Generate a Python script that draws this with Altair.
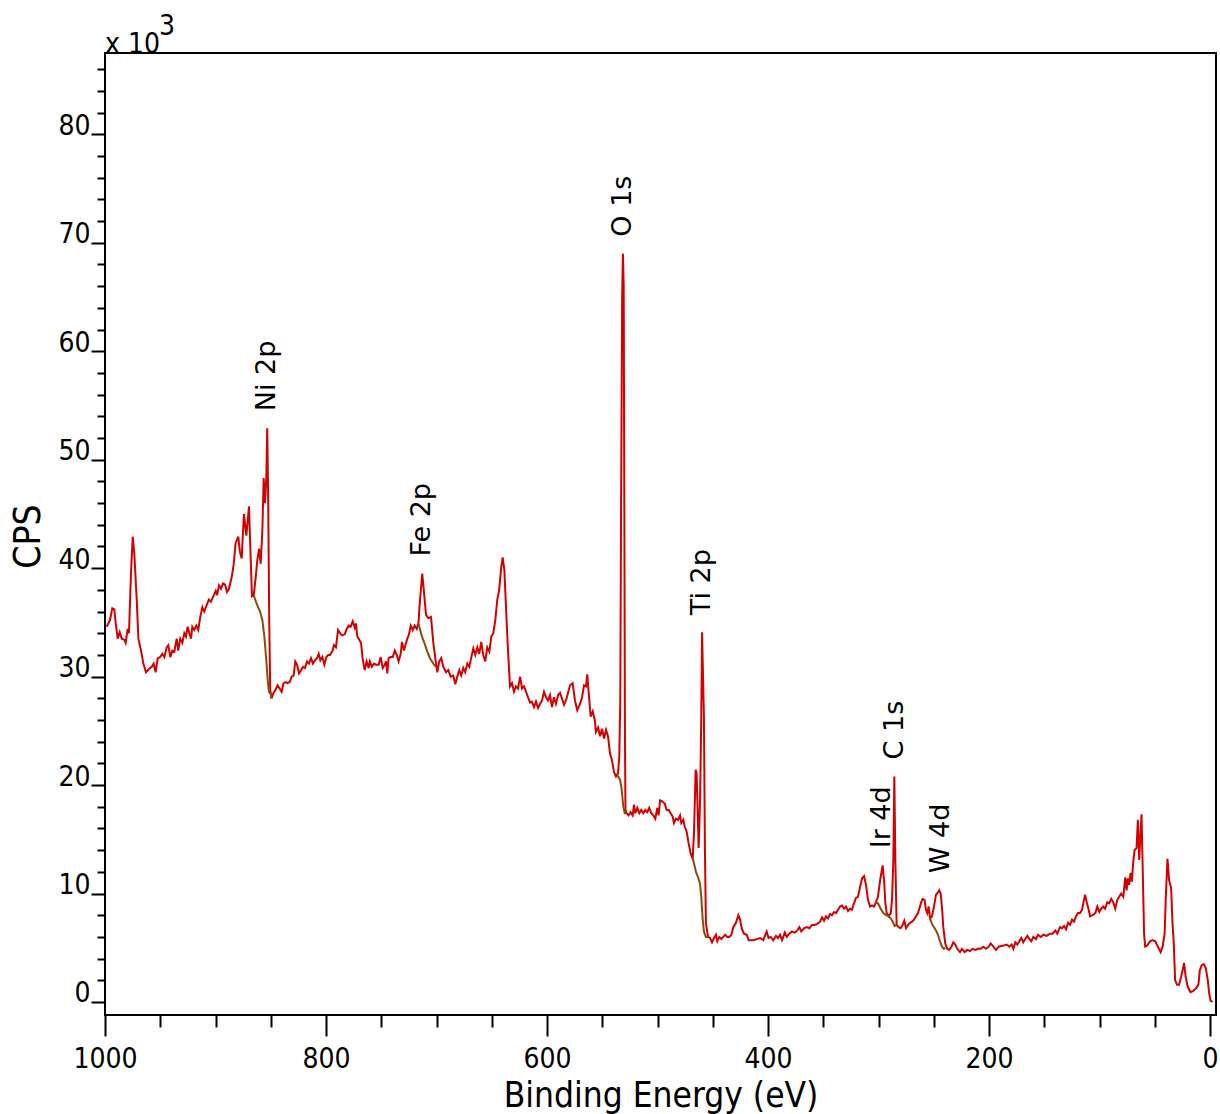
import altair as alt
import pandas as pd

# ---------------- data ----------------
energy = [
    998.5, 995.5, 993.4, 991.6, 990.3, 988.5, 986.7, 984.9, 982.5, 981.3, 979.5, 978.3, 976.5, 974.9, 973.5,
    971.3, 969.8, 967.4, 965.3, 962.9, 960.2, 957.7, 956.0, 954.2, 952.3, 950.2, 948.1, 946.3, 944.2, 942.7,
    940.9, 939.1, 937.3, 935.1, 933.7, 931.9, 930.0, 928.2, 926.7, 925.2, 923.7, 922.2, 921.0, 919.2, 917.4,
    915.6, 913.8, 911.9, 910.2, 908.0, 906.0, 904.2, 902.0, 899.8, 898.6, 896.8, 895.0, 893.2, 891.4, 889.6,
    887.8, 885.3, 883.6, 881.8, 879.4, 877.9, 876.3, 874.3, 872.1, 869.7, 868.1, 867.0, 865.4, 863.6, 862.2,
    860.6, 859.1, 857.6, 856.4, 855.2, 854.0, 853.2, 852.3, 851.4, 850.5, 849.3, 847.5, 845.6, 843.8, 842.0,
    840.2, 838.4, 836.5, 834.7, 832.9, 831.1, 829.3, 827.8, 826.2, 824.4, 822.6, 820.8, 819.0, 817.2, 815.4,
    813.6, 811.8, 810.0, 808.1, 806.6, 805.1, 803.3, 801.5, 799.7, 797.9, 796.4, 794.0, 792.8, 791.0, 789.1,
    787.3, 785.5, 783.1, 781.3, 779.5, 777.7, 775.8, 774.0, 772.9, 771.7, 769.9, 768.3, 766.9, 765.0, 763.2,
    761.4, 760.3, 758.5, 756.6, 754.8, 752.3, 750.5, 748.7, 746.9, 745.7, 744.5, 743.4, 741.5, 739.6, 737.8,
    736.0, 734.3, 732.4, 731.3, 729.4, 728.2, 726.4, 725.2, 723.3, 721.5, 719.7, 717.9, 716.4, 714.9, 712.9,
    711.0, 709.5, 707.4, 705.0, 702.9, 701.1, 699.3, 697.5, 695.7, 693.8, 691.4, 689.3, 687.2, 684.8, 683.0,
    681.2, 679.4, 677.6, 675.8, 674.0, 672.1, 670.3, 668.5, 666.7, 664.9, 663.1, 661.3, 659.5, 657.7, 655.9,
    654.1, 652.2, 650.4, 648.6, 646.8, 645.0, 643.3, 641.4, 640.1, 638.6, 637.1, 635.3, 633.5, 631.7, 629.9,
    628.1, 626.2, 624.4, 622.6, 620.8, 619.0, 617.2, 615.4, 613.6, 611.8, 610.0, 608.1, 606.3, 604.5, 602.7,
    600.9, 599.1, 597.3, 595.5, 593.7, 591.9, 590.0, 588.2, 584.6, 582.2, 579.2, 576.8, 574.7, 572.6, 570.1,
    568.3, 566.5, 564.7, 563.6, 561.7, 560.5, 558.6, 556.8, 555.7, 553.8, 552.0, 550.2, 548.4, 546.6, 544.8,
    543.0, 541.2, 539.4, 537.6, 535.7, 534.6, 533.7, 533.0, 532.0, 531.3, 530.6, 530.0, 529.5, 529.0, 528.0,
    526.2, 524.4, 522.5, 521.3, 520.1, 518.3, 516.5, 514.7, 512.9, 511.1, 509.3, 507.5, 505.6, 503.8, 502.0,
    500.2, 499.0, 497.7, 495.9, 493.5, 491.7, 489.9, 488.1, 486.3, 485.1, 483.3, 481.4, 479.6, 478.5, 476.7,
    475.5, 473.6, 471.8, 470.0, 468.2, 467.0, 465.5, 464.6, 463.7, 462.8, 461.5, 460.4, 459.7, 458.0, 457.1,
    456.2, 454.3, 452.5, 450.7, 448.9, 447.1, 445.9, 444.1, 442.3, 440.5, 438.7, 436.8, 435.0, 433.2, 431.4,
    429.0, 426.9, 425.3, 423.8, 421.8, 419.3, 417.5, 413.3, 410.3, 407.2, 404.3, 401.2, 399.5, 397.6, 395.2,
    392.8, 391.0, 389.1, 387.3, 384.8, 383.1, 380.7, 378.3, 375.9, 373.5, 371.7, 369.9, 367.4, 365.0, 362.6,
    360.2, 357.8, 355.4, 352.9, 351.1, 349.3, 347.5, 345.7, 343.9, 342.1, 340.3, 338.4, 336.7, 334.8, 333.0,
    331.2, 329.4, 327.6, 325.8, 324.0, 322.2, 320.4, 318.6, 316.7, 314.9, 313.1, 311.3, 309.5, 307.7, 305.9,
    304.1, 302.3, 300.5, 298.6, 296.3, 295.0, 293.8, 292.6, 290.8, 288.9, 287.8, 286.6, 285.7, 284.8, 283.6,
    281.8, 280.0, 278.2, 276.7, 275.1, 273.3, 271.5, 269.7, 267.9, 266.1, 264.3, 262.5, 261.3, 260.1, 258.3,
    257.1, 255.9, 254.6, 253.4, 251.6, 249.8, 248.0, 246.2, 245.0, 243.8, 242.6, 241.4, 239.6, 237.8, 236.0,
    234.1, 232.3, 230.5, 228.7, 226.3, 224.5, 222.0, 219.7, 217.2, 214.8, 212.4, 210.0, 207.6, 205.2, 202.7,
    200.3, 198.5, 196.1, 193.7, 191.2, 187.0, 184.0, 181.6, 179.5, 178.0, 176.2, 174.4, 172.6, 170.8, 169.0,
    167.2, 165.3, 163.5, 161.7, 159.9, 157.5, 155.7, 153.2, 150.8, 147.8, 144.8, 142.4, 140.0, 138.2, 135.8,
    134.0, 132.1, 130.3, 128.5, 126.7, 124.9, 123.1, 121.3, 119.5, 117.6, 115.8, 114.7, 113.1, 111.6, 109.8,
    108.6, 106.2, 103.8, 102.0, 100.2, 98.4, 96.7, 94.9, 93.0, 91.2, 89.4, 87.6, 85.8, 84.0, 82.2,
    80.4, 78.5, 76.7, 75.5, 74.4, 73.2, 71.9, 70.7, 69.5, 68.3, 66.5, 65.3, 64.1, 62.9, 62.0,
    61.1, 59.7, 58.7, 56.9, 54.3, 51.9, 49.6, 47.1, 44.7, 42.9, 41.1, 39.9, 38.5, 37.0, 35.2,
    34.0, 32.8, 31.6, 29.8, 28.0, 26.2, 24.9, 23.5, 22.0, 20.2, 17.7, 15.4, 12.3, 10.5, 9.3,
    7.5, 5.7, 3.8, 2.0, 0.8, -0.5, -2.3,
]
counts = [
    34.6, 35.2, 36.3, 36.2, 34.9, 33.5, 34.1, 33.5, 33.4, 33.1, 34.4, 34.0, 39.5, 42.9, 41.4,
    37.1, 33.5, 32.4, 31.2, 30.4, 30.7, 30.9, 31.2, 30.4, 31.7, 31.8, 32.1, 31.8, 32.7, 32.9,
    31.8, 32.4, 32.3, 33.5, 32.4, 33.5, 33.1, 34.0, 33.7, 34.6, 34.0, 33.5, 34.6, 34.3, 34.7,
    34.3, 35.5, 36.4, 36.0, 36.6, 37.1, 36.9, 37.4, 37.9, 37.5, 38.4, 38.1, 38.6, 38.5, 37.8,
    38.1, 39.2, 40.3, 42.3, 42.9, 41.5, 40.9, 45.0, 43.0, 45.7, 40.7, 37.4, 37.5, 39.2, 40.7,
    41.8, 40.4, 43.5, 48.3, 46.0, 48.3, 52.9, 46.0, 35.2, 28.8, 28.0, 28.5, 28.8, 29.2, 28.9,
    28.6, 29.4, 29.5, 29.4, 29.5, 30.0, 30.1, 31.4, 31.1, 30.3, 30.6, 30.9, 30.8, 31.4, 31.2,
    31.7, 31.2, 31.5, 31.7, 32.1, 31.5, 31.8, 31.1, 31.8, 32.0, 32.0, 32.4, 32.9, 32.7, 34.3,
    34.0, 33.8, 33.9, 34.4, 34.7, 34.6, 35.1, 34.5, 34.9, 33.7, 33.4, 33.1, 31.7, 30.6, 31.4,
    30.8, 31.4, 30.9, 31.2, 31.1, 31.1, 31.8, 30.8, 31.1, 31.4, 30.3, 31.7, 31.8, 31.8, 32.4,
    32.0, 31.4, 32.1, 33.2, 32.4, 32.9, 33.5, 33.8, 34.7, 34.3, 34.7, 34.4, 34.9, 37.1, 39.5,
    37.4, 35.7, 35.4, 35.5, 33.1, 31.7, 30.4, 31.4, 31.7, 30.9, 30.4, 30.6, 30.0, 30.1, 29.3,
    30.0, 30.6, 30.1, 30.8, 30.4, 31.2, 30.9, 31.8, 32.6, 32.0, 32.7, 32.1, 33.2, 32.0, 31.4,
    32.7, 32.3, 33.7, 34.0, 35.2, 37.1, 38.0, 40.1, 41.0, 39.8, 36.4, 32.4, 29.1, 29.4, 28.6,
    29.1, 28.9, 30.0, 28.9, 29.1, 28.6, 28.1, 27.6, 27.7, 27.2, 27.7, 27.1, 27.5, 27.8, 28.6,
    28.1, 27.8, 28.3, 27.2, 28.1, 27.5, 28.3, 28.5, 27.4, 28.0, 29.2, 29.4, 27.8, 26.9, 27.5,
    28.1, 29.2, 29.1, 30.2, 27.8, 26.3, 26.8, 26.0, 24.9, 25.3, 24.5, 25.2, 24.3, 25.1, 24.5,
    22.9, 22.3, 21.2, 20.8, 21.1, 22.6, 27.8, 45.0, 65.0, 69.0, 66.0, 45.0, 25.0, 17.7, 17.4,
    17.2, 17.5, 17.2, 18.2, 17.4, 17.9, 17.4, 17.7, 17.4, 17.7, 17.5, 17.9, 17.4, 17.2, 16.9,
    17.9, 17.2, 18.6, 18.5, 18.3, 17.7, 17.7, 17.4, 17.1, 16.5, 16.9, 16.8, 17.2, 16.5, 16.8,
    16.2, 15.7, 14.6, 13.7, 13.2, 15.5, 21.4, 21.1, 17.7, 14.2, 18.6, 26.3, 34.1, 26.3, 14.0,
    7.3, 6.0, 5.9, 5.5, 5.9, 6.2, 5.6, 6.0, 5.8, 6.0, 6.2, 6.0, 6.0, 6.2, 6.9,
    7.3, 8.0, 7.6, 6.8, 6.3, 6.2, 5.7, 5.7, 5.8, 5.9, 5.7, 6.5, 5.9, 6.0, 5.7,
    6.1, 5.9, 6.2, 5.7, 6.4, 6.0, 6.3, 6.5, 6.4, 6.6, 6.9, 6.5, 6.8, 6.9, 6.8,
    7.1, 7.1, 7.2, 7.4, 7.8, 7.5, 7.9, 7.7, 8.1, 8.0, 8.3, 8.2, 8.5, 8.8, 8.9,
    8.6, 8.8, 8.4, 8.6, 8.5, 9.1, 9.6, 9.7, 10.6, 11.4, 11.6, 10.8, 9.4, 8.8, 8.9,
    8.8, 9.2, 9.7, 11.2, 12.6, 11.2, 9.1, 8.2, 7.9, 8.2, 9.4, 13.1, 20.8, 13.1, 7.1,
    6.9, 6.8, 7.1, 7.5, 6.8, 7.1, 7.3, 7.4, 7.6, 7.9, 8.2, 8.8, 9.2, 9.5, 9.4,
    8.5, 8.2, 8.8, 7.7, 7.9, 8.8, 9.9, 10.1, 10.3, 10.0, 8.8, 6.9, 5.4, 4.9, 4.8,
    5.1, 5.5, 5.3, 4.9, 4.6, 4.9, 4.6, 4.8, 4.7, 4.9, 4.8, 4.9, 4.9, 5.1, 4.9,
    5.1, 5.4, 5.1, 4.8, 5.1, 5.2, 5.3, 5.1, 5.3, 4.9, 5.5, 5.3, 5.6, 5.9, 5.5,
    5.8, 6.1, 5.8, 5.6, 6.0, 5.8, 6.2, 6.0, 6.2, 6.1, 6.3, 6.3, 6.6, 6.3, 6.9,
    6.8, 7.0, 6.7, 7.3, 7.1, 7.6, 7.4, 7.9, 8.2, 8.2, 8.5, 9.1, 9.9, 9.2, 8.5,
    7.9, 8.0, 8.2, 8.8, 8.3, 8.6, 8.8, 8.6, 9.2, 9.1, 9.5, 9.2, 8.6, 9.4, 9.7,
    10.0, 9.7, 11.5, 10.3, 11.4, 10.8, 11.9, 11.1, 12.9, 14.0, 14.2, 16.8, 13.1, 15.5, 17.3,
    13.1, 6.3, 5.1, 5.2, 5.6, 5.7, 5.6, 5.1, 4.6, 5.1, 6.3, 10.0, 13.2, 11.2, 10.5,
    7.3, 5.4, 2.0, 1.6, 1.6, 2.3, 2.9, 3.6, 2.3, 1.4, 0.9, 1.0, 1.3, 1.6, 2.9,
    3.4, 3.5, 3.1, 2.0, 0.8, 0.1, 0.0,
]

# Shirley-type backgrounds under the labelled peaks
bg_region = (["Ni 2p"] * 10 + ["Fe 2p"] * 7 + ["O 1s"] * 7 + ["Ti 2p"] * 10
             + ["Ir/C"] * 10 + ["W 4d"] * 9)
bg_energy = [
    865.4, 862.7, 859.7, 857.6, 855.8, 854.0, 852.8, 851.6, 850.1, 849.3,
    716.4, 713.5, 711.0, 708.3, 705.9, 702.9, 700.5,
    536.4, 533.9, 532.7, 531.8, 530.9, 529.7, 528.0,
    468.5, 467.0, 465.2, 463.3, 461.5, 460.4, 459.2, 458.0, 456.2, 454.3,
    302.3, 300.5, 298.0, 295.7, 293.2, 290.8, 288.9, 287.1, 285.3, 283.6,
    253.4, 251.6, 249.8, 248.0, 246.2, 244.4, 242.6, 240.8, 239.6,
]
bg_counts = [
    37.5, 36.7, 36.0, 35.2, 33.7, 31.5, 29.7, 28.6, 28.4, 28.0,
    34.9, 33.8, 33.1, 32.3, 31.7, 31.2, 30.9,
    20.9, 20.5, 19.8, 18.9, 18.0, 17.4, 17.4,
    13.4, 12.8, 12.0, 11.5, 10.9, 9.7, 7.7, 6.5, 6.0, 6.0,
    9.2, 9.1, 8.6, 8.2, 8.0, 7.9, 7.7, 7.4, 7.0, 7.1,
    7.7, 7.2, 6.9, 6.6, 6.2, 5.6, 5.1, 4.9, 5.0,
]

peak_labels = ["Ni 2p", "Fe 2p", "O 1s", "Ti 2p", "Ir 4d", "C 1s", "W 4d"]
peak_energy = [853.2, 712.9, 531.3, 459.7, 296.6, 285.0, 243.6]
peak_counts = [52.9, 39.5, 69.0, 34.1, 12.6, 20.8, 10.3]

x_major = [1000, 800, 600, 400, 200, 0]
x_minor = [950, 900, 850, 750, 700, 650, 550, 500, 450, 350, 300, 250, 150, 100, 50]
y_major = [0, 10, 20, 30, 40, 50, 60, 70, 80]
y_minor = [2, 4, 6, 8, 12, 14, 16, 18, 22, 24, 26, 28, 32, 34, 36, 38, 42, 44, 46, 48,
           52, 54, 56, 58, 62, 64, 66, 68, 72, 74, 76, 78, 82, 84, 86]
scale_text = ["x 10"]
scale_exp = ["3"]

# ---------------- chart ----------------
AXFONT = "DejaVu Sans Condensed, DejaVu Sans, sans-serif"
LBLFONT = "DejaVu Sans, sans-serif"
RED = "#d40000"
BROWN = "#8a4b0c"

spec_df = pd.DataFrame({"be": energy, "cps": counts})
bg_df = pd.DataFrame({"be": bg_energy, "cps": bg_counts, "region": bg_region})
lab_df = pd.DataFrame({"be": peak_energy, "cps": peak_counts, "label": peak_labels})

xscale = alt.Scale(domain=[1000, -5.4], nice=False, zero=False)
yscale = alt.Scale(domain=[-1.2, 87.5], nice=False, zero=False)

x_axis_major = alt.Axis(
    orient="bottom", values=x_major, format="d", tickSize=21, tickWidth=2, tickColor="black",
    domain=False, grid=False, labelFont=AXFONT, labelFontSize=28, labelColor="black",
    labelPadding=9, labelBaseline="top", labelFlush=False, labelOverlap=False,
    title="Binding Energy (eV)", titleFont=AXFONT, titleFontSize=35,
    titleFontWeight="normal", titleColor="black", titleX=555.5, titleY=91,
    titleAlign="center", titleBaseline="alphabetic",
)
y_axis_major = alt.Axis(
    orient="left", values=y_major, format="d", tickSize=14, tickWidth=2, tickColor="black",
    domain=False, grid=False, labelFont=AXFONT, labelFontSize=28, labelColor="black",
    labelPadding=1, labelBaseline="alphabetic", labelAlign="right", labelFlush=False,
    labelOverlap=False,
    title="CPS", titleFont=AXFONT, titleFontSize=37, titleFontWeight="normal",
    titleColor="black", titleX=-77, titleY=483, titleAngle=270, titleAlign="center",
    titleBaseline="middle",
)
x_axis_minor = alt.Axis(
    orient="bottom", values=x_minor, tickSize=12, tickWidth=2, tickColor="black",
    domain=False, grid=False, labels=False, title=None,
)
y_axis_minor = alt.Axis(
    orient="left", values=y_minor, tickSize=8, tickWidth=2, tickColor="black",
    domain=False, grid=False, labels=False, title=None,
)

minor = alt.Chart(spec_df).mark_line(strokeOpacity=0).encode(
    x=alt.X("be:Q", scale=xscale, axis=x_axis_minor),
    y=alt.Y("cps:Q", scale=yscale, axis=y_axis_minor),
)

spectrum = alt.Chart(spec_df).mark_line(color=RED, strokeWidth=2).encode(
    x=alt.X("be:Q", scale=xscale, axis=x_axis_major),
    y=alt.Y("cps:Q", scale=yscale, axis=y_axis_major),
    order="rank:Q",
).transform_window(rank="row_number()")

background = alt.Chart(bg_df).mark_line(color=BROWN, strokeWidth=2).encode(
    x=alt.X("be:Q", scale=xscale, axis=None),
    y=alt.Y("cps:Q", scale=yscale, axis=None),
    detail="region:N",
)

labels = alt.Chart(lab_df).mark_text(
    angle=270, align="left", baseline="middle", dx=17,
    font=LBLFONT, fontSize=27, color="black",
).encode(
    x=alt.X("be:Q", scale=xscale, axis=None),
    y=alt.Y("cps:Q", scale=yscale, axis=None),
    text="label:N",
)

mult = alt.Chart(pd.DataFrame({"t": scale_text})).mark_text(
    align="left", baseline="alphabetic", font=AXFONT, fontSize=28, color="black",
).encode(x=alt.value(0), y=alt.value(0), text="t:N")

expo = alt.Chart(pd.DataFrame({"t": scale_exp})).mark_text(
    align="left", baseline="alphabetic", font=AXFONT, fontSize=28, color="black",
).encode(x=alt.value(54), y=alt.value(-18), text="t:N")

chart = alt.layer(minor, spectrum, background, labels, mult, expo).resolve_axis(
    x="independent", y="independent"
).properties(
    width=1111, height=962,
    padding={"left": 105, "top": 53, "right": 4, "bottom": 99},
    autosize=alt.AutoSizeParams(type="none"),
    background="white",
).configure_view(stroke="black", strokeWidth=2)

chart.save("out.html", embed_options={"renderer": "svg", "actions": False})
